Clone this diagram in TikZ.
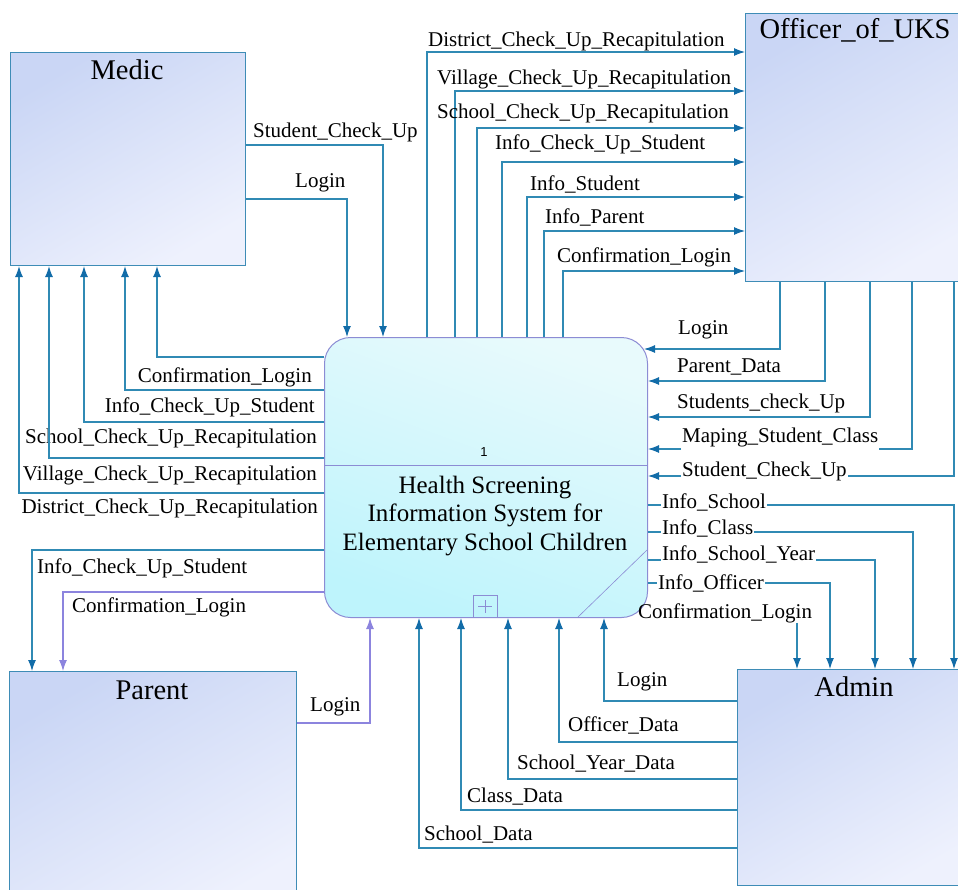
\documentclass[tikz,border=0pt]{standalone}
\usepackage{fontspec}
\setmainfont{Liberation Serif}
\newfontfamily\arialf{Liberation Sans}
\usetikzlibrary{arrows.meta}
\definecolor{flow}{RGB}{48,138,180}
\definecolor{arr}{RGB}{18,108,168}
\definecolor{pflow}{RGB}{140,132,222}
\definecolor{entbd}{RGB}{62,140,182}
\definecolor{entA}{RGB}{202,214,245}
\definecolor{entB}{RGB}{238,241,253}
\definecolor{procbd}{RGB}{140,140,212}
\definecolor{procA}{RGB}{232,250,252}
\definecolor{procB}{RGB}{190,244,252}
\tikzset{
  entity/.style={draw=entbd, line width=1.1pt, top color=entA, bottom color=entB, shading angle=30, rectangle, anchor=north west, inner sep=0pt},
  procbox/.style={draw=procbd, line width=1pt, top color=procA, bottom color=procB, shading angle=-20, rectangle, rounded corners=26pt, anchor=north west, inner sep=0pt},
  ttl/.style={font=\fontsize{28.5}{32}\selectfont, inner sep=0pt},
  lab/.style={font=\fontsize{21}{24}\selectfont, inner sep=0pt, anchor=west},
  labr/.style={font=\fontsize{21}{24}\selectfont, inner sep=0pt, anchor=east},
  fl/.style={draw=flow, line width=1.1pt, -{Latex[length=11pt,width=8pt,color=arr]}},
  flz/.style={draw=flow, line width=1.1pt},
  pfl/.style={draw=pflow, line width=1.1pt, -{Latex[length=11pt,width=8pt]}},
}
\begin{document}
\begin{tikzpicture}[x=1pt,y=-1pt]
\fill[white] (0,0) rectangle (958,889);
\useasboundingbox (0,0) rectangle (958,889);
% entities
\node[entity, minimum width=235pt, minimum height=213pt] (medic) at (10,52) {};
\node[ttl] (tmedic) at (127,70) {Medic};
\node[entity, minimum width=230pt, minimum height=268pt] (off) at (745,13) {};
\node[ttl] (toff) at (855,30) {Officer\_of\_UKS};
\node[entity, minimum width=287pt, minimum height=240pt] (parent) at (9,671) {};
\node[ttl] (tparent) at (152,690) {Parent};
\node[entity, minimum width=240pt, minimum height=216pt] (admin) at (737,669) {};
\node[ttl] (tadmin) at (854,687) {Admin};
% process
\node[procbox, minimum width=323pt, minimum height=280pt] (proc) at (324,337) {};
\draw[procbd, line width=0.8pt] (proc.west |- 0,465) -- (proc.east |- 0,465);
\node[font=\arialf\fontsize{13}{15}\selectfont, inner sep=0pt] (pnum) at (484,452) {1};
\node[font=\fontsize{25}{28.5}\selectfont, align=center, inner sep=0pt] (ptext) at (485,516) {Health Screening\\Information System for\\Elementary School Children};
\draw[procbd, line width=0.8pt] (473,617) rectangle (497,595);
\draw[procbd, line width=0.8pt] (485,600) -- (485,613) (478,606.5) -- (492,606.5);
\draw[procbd, line width=0.6pt] (578,617) -- (647,550);
% Medic -> process
\draw[fl] (medic.east |- 0,145) -| (proc.north -| 383,0);
\node[lab] (l01) at (253,132) {Student\_Check\_Up};
\draw[fl] (medic.east |- 0,199) -| (proc.north -| 347,0);
\node[lab] (l02) at (295,183) {Login};
% process -> Officer
\draw[fl] (proc.north -| 427,0) |- (off.west |- 0,52);
\node[lab] (l03) at (428,41) {District\_Check\_Up\_Recapitulation};
\draw[fl] (proc.north -| 455,0) |- (off.west |- 0,91);
\node[lab] (l04) at (437,79) {Village\_Check\_Up\_Recapitulation};
\draw[fl] (proc.north -| 477,0) |- (off.west |- 0,128);
\node[lab] (l05) at (437,113) {School\_Check\_Up\_Recapitulation};
\draw[fl] (proc.north -| 502,0) |- (off.west |- 0,162);
\node[lab] (l06) at (495,144) {Info\_Check\_Up\_Student};
\draw[fl] (proc.north -| 527,0) |- (off.west |- 0,197);
\node[lab] (l07) at (530,184) {Info\_Student};
\draw[fl] (proc.north -| 544,0) |- (off.west |- 0,231);
\node[lab] (l08) at (545,217) {Info\_Parent};
\draw[fl] (proc.north -| 563,0) |- (off.west |- 0,271);
\node[lab] (l09) at (557,257) {Confirmation\_Login};
% process -> Medic
\draw[fl] (proc.west |- 0,357) -| (medic.south -| 157,0);
\node[labr] (l10) at (312,377) {Confirmation\_Login};
\draw[fl] (proc.west |- 0,390) -| (medic.south -| 125,0);
\node[labr] (l11) at (315,407) {Info\_Check\_Up\_Student};
\draw[fl] (proc.west |- 0,422) -| (medic.south -| 84,0);
\node[labr] (l12) at (317,438) {School\_Check\_Up\_Recapitulation};
\draw[fl] (proc.west |- 0,458) -| (medic.south -| 49,0);
\node[labr] (l13) at (317,475) {Village\_Check\_Up\_Recapitulation};
\draw[fl] (proc.west |- 0,493) -| (medic.south -| 19,0);
\node[labr] (l14) at (318,508) {District\_Check\_Up\_Recapitulation};
% process <-> Parent
\draw[fl] (proc.west |- 0,550) -| (parent.north -| 32,0);
\node[lab] (l15) at (37,568) {Info\_Check\_Up\_Student};
\draw[pfl] (proc.west |- 0,592) -| (parent.north -| 63,0);
\node[lab] (l16) at (72,607) {Confirmation\_Login};
\draw[pfl] (parent.east |- 0,723) -| (proc.south -| 370,0);
\node[lab] (l17) at (310,707) {Login};
% Officer -> process
\draw[fl] (off.south -| 780,0) |- ([xshift=-4pt]proc.east |- 0,349);
\node[lab] (l18) at (678,330) {Login};
\draw[fl] (off.south -| 825,0) |- (proc.east |- 0,381);
\node[lab] (l19) at (677,367) {Parent\_Data};
\draw[fl] (off.south -| 870,0) |- (proc.east |- 0,417);
\node[lab] (l20) at (677,403) {Students\_check\_Up};
\node[lab, inner xsep=1pt] (l21) at (681,437) {Maping\_Student\_Class};
\draw[flz] (off.south -| 912,0) |- (l21.east |- 0,449);
\draw[fl] (l21.west |- 0,449) -- (proc.east |- 0,449);
\node[lab, inner xsep=1pt] (l22) at (681,471) {Student\_Check\_Up};
\draw[flz] (off.south -| 954,0) |- (l22.east |- 0,476);
\draw[fl] (l22.west |- 0,476) -- (proc.east |- 0,476);
% process -> Admin
\node[lab, inner xsep=1pt] (l23) at (661,502) {Info\_School};
\draw[flz] (proc.east |- 0,505) -- (l23.west |- 0,505);
\draw[fl] (l23.east |- 0,505) -| (admin.north -| 954,0);
\node[lab, inner xsep=1pt] (l24) at (661,528) {Info\_Class};
\draw[flz] (proc.east |- 0,532) -- (l24.west |- 0,532);
\draw[fl] (l24.east |- 0,532) -| (admin.north -| 913,0);
\node[lab, inner xsep=1pt] (l25) at (661,554) {Info\_School\_Year};
\draw[flz] (proc.east |- 0,560) -- (l25.west |- 0,560);
\draw[fl] (l25.east |- 0,560) -| (admin.north -| 875,0);
\node[lab, inner xsep=1pt] (l26) at (657,583) {Info\_Officer};
\draw[flz] (proc.east |- 0,583) -- (l26.west |- 0,583);
\draw[fl] (l26.east |- 0,583) -| (admin.north -| 830,0);
\node[lab] (l27) at (638,613) {Confirmation\_Login};
\draw[fl] (l27.south -| 797,0) -- (admin.north -| 797,0);
% Admin -> process
\draw[fl] (admin.west |- 0,701) -| (proc.south -| 604,0);
\node[lab] (l28) at (617,682) {Login};
\draw[fl] (admin.west |- 0,742) -| (proc.south -| 559,0);
\node[lab] (l29) at (568,725) {Officer\_Data};
\draw[fl] (admin.west |- 0,779) -| (proc.south -| 508,0);
\node[lab] (l30) at (517,764) {School\_Year\_Data};
\draw[fl] (admin.west |- 0,810) -| (proc.south -| 461,0);
\node[lab] (l31) at (467,797) {Class\_Data};
\draw[fl] (admin.west |- 0,848) -| (proc.south -| 419,0);
\node[lab] (l32) at (424,835) {School\_Data};
\end{tikzpicture}
\end{document}
